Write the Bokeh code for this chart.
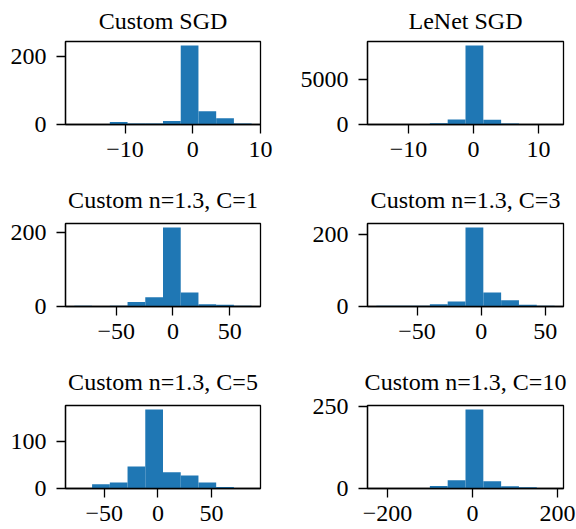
import numpy as np
from bokeh.plotting import figure
from bokeh.layouts import gridplot
from bokeh.models import Range1d, FixedTicker, CustomJSTickFormatter
from bokeh.embed import file_html
from bokeh.resources import INLINE

# ---- data (histogram counts, 10 bins each; bin range = data min/max) ----
titles = ["Custom SGD", "LeNet SGD", "Custom n=1.3, C=1",
          "Custom n=1.3, C=3", "Custom n=1.3, C=5", "Custom n=1.3, C=10"]

sgd_counts = [1, 0, 7, 3, 3, 10, 231, 39, 18, 3]
sgd_range = (-17.5, 8.7)
lenet_counts = [5, 10, 30, 130, 550, 8750, 520, 110, 25, 5]
lenet_range = (-14.93, 12.48)
c1_counts = [2, 0, 2, 12, 25, 214, 38, 6, 5, 2]
c1_range = (-86.9, 69.4)
c3_counts = [2, 2, 2, 6, 14, 219, 39, 17, 5, 2]
c3_range = (-81.7, 57.2)
c5_counts = [1, 9, 13, 47, 169, 35, 28, 13, 3, 1]
c5_range = (-78.0, 87.5)
c10_counts = [1, 0, 1, 8, 25, 242, 22, 7, 4, 1]
c10_range = (-226.0, 193.0)

x_ticks = [[-10, 0, 10], [-10, 0, 10], [-50, 0, 50],
           [-50, 0, 50], [-50, 0, 50], [-200, 0, 200]]
y_ticks = [[0, 200], [0, 5000], [0, 200], [0, 200], [0, 100], [0, 250]]

all_counts = [sgd_counts, lenet_counts, c1_counts, c3_counts, c5_counts, c10_counts]
all_ranges = [sgd_range, lenet_range, c1_range, c3_range, c5_range, c10_range]

FONT = "Liberation Serif"
BLUE = "#1f77b4"
LW = 1.3

fmt_code = "return tick < 0 ? '\u2212' + (-tick) : '' + tick;"

# layout (pixels): per column / per row borders around fixed-size frames
col_frame_w = [195, 196]
col_left = [65, 71]
col_right = [36, 13]
row_top = [41, 48, 48]
row_bottom = [51, 51, 41]
row_title_standoff = [11, 17, 17]
FRAME_H = 83


def make(i):
    col, row = i % 2, i // 2
    counts = all_counts[i]
    lo, hi = all_ranges[i]
    n = len(counts)
    edges = np.linspace(lo, hi, n + 1)
    span = hi - lo
    xr = Range1d(lo - 0.05 * span, hi + 0.05 * span)
    yr = Range1d(0, 1.05 * max(counts))
    p = figure(frame_width=col_frame_w[col], frame_height=FRAME_H,
               x_range=xr, y_range=yr, title=titles[i],
               output_backend="svg", toolbar_location=None,
               min_border_left=col_left[col], min_border_right=col_right[col],
               min_border_top=row_top[row], min_border_bottom=row_bottom[row])
    p.quad(left=edges[:-1], right=edges[1:], bottom=0, top=counts,
           fill_color=BLUE, line_color=None)
    p.title.text_font = FONT
    p.title.text_font_size = "24px"
    p.title.text_font_style = "normal"
    p.title.text_color = "black"
    p.title.align = "center"
    p.title.vertical_align = "top"
    p.title.standoff = row_title_standoff[row]
    p.xgrid.visible = False
    p.ygrid.visible = False
    p.outline_line_color = "black"
    p.outline_line_width = LW
    p.background_fill_color = "white"
    p.border_fill_color = "white"
    for ax, ticks in ((p.xaxis[0], x_ticks[i]), (p.yaxis[0], y_ticks[i])):
        ax.ticker = FixedTicker(ticks=ticks)
        ax.formatter = CustomJSTickFormatter(code=fmt_code)
        ax.axis_line_color = "black"
        ax.axis_line_width = LW
        ax.major_tick_line_color = "black"
        ax.major_tick_line_width = LW
        ax.major_tick_in = 0
        ax.major_tick_out = 9
        ax.minor_tick_in = 0
        ax.minor_tick_out = 0
        ax.major_label_text_font = FONT
        ax.major_label_text_font_size = "24px"
        ax.major_label_text_color = "black"
    p.xaxis.major_label_standoff = 8
    p.yaxis.major_label_standoff = 10
    return p


plots = [make(i) for i in range(6)]
grid = gridplot([[plots[0], plots[1]], [plots[2], plots[3]], [plots[4], plots[5]]],
                toolbar_location=None)

open("out.html", "w").write(file_html(grid, INLINE))
